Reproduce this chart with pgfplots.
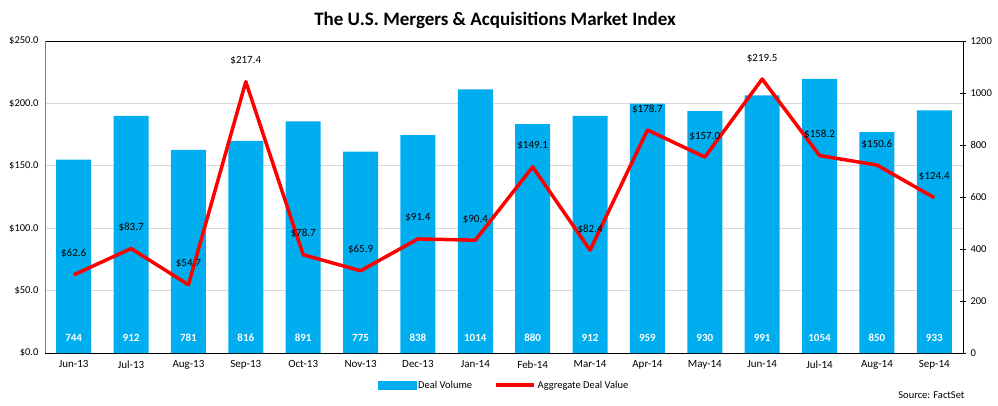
\documentclass[border=0pt]{standalone}
\usepackage{pgfplots}
\pgfplotsset{compat=1.18}
\usepackage{fontspec}
\setmainfont{Carlito}
\definecolor{barblue}{HTML}{00ADEF}
\definecolor{gridgray}{HTML}{D9D9D9}
\newcommand{\tickfont}{\fontsize{10.5}{12}\selectfont}
\newcommand{\labfont}{\fontsize{11}{13}\selectfont}
\begin{document}
\begin{tikzpicture}[x=1pt,y=1pt]
\path[use as bounding box] (-45,-52) rectangle (953,353);
\begin{axis}[
  at={(0,0)}, anchor=south west,
  width=918pt, height=312pt, scale only axis,
  xmin=-0.5, xmax=15.5, ymin=0, ymax=1200,
  axis y line*=right, axis x line*=bottom,
  axis line style={-, black, line width=0.8pt},
  xtick={0,...,15},
  xticklabels={Jun-13,Jul-13,Aug-13,Sep-13,Oct-13,Nov-13,Dec-13,Jan-14,Feb-14,Mar-14,Apr-14,May-14,Jun-14,Jul-14,Aug-14,Sep-14},
  xtick style={draw=none},
  x tick label style={font=\fontsize{11}{13}\selectfont, yshift=-1pt},
  ytick={0,200,...,1200},
  y tick style={black, line width=0.8pt},
  tick align=center, major tick length=6pt,
  y tick label style={font=\tickfont, xshift=1pt},
  /pgf/number format/assume math mode=true,
  /pgf/number format/1000 sep={},
  extra y ticks={240,480,720,960},
  extra y tick labels={},
  extra y tick style={grid=major, major grid style={gridgray, line width=0.8pt}, major tick length=0pt},
]
\addplot[ybar, bar width=35pt, fill=barblue, draw=none] coordinates {
(0,744) (1,912) (2,781) (3,816) (4,891) (5,775) (6,838) (7,1014)
(8,880) (9,912) (10,959) (11,930) (12,991) (13,1054) (14,850) (15,933)};
\addplot[draw=none, mark=none, nodes near coords, point meta=explicit symbolic,
  every node near coord/.style={anchor=center, text=white, font=\labfont\bfseries}] coordinates {
(0,58) [744] (1,58) [912] (2,58) [781] (3,58) [816] (4,58) [891] (5,58) [775] (6,58) [838] (7,58) [1014]
(8,58) [880] (9,58) [912] (10,58) [959] (11,58) [930] (12,58) [991] (13,58) [1054] (14,58) [850] (15,58) [933]};
\end{axis}
\begin{axis}[
  at={(0,0)}, anchor=south west,
  width=918pt, height=312pt, scale only axis,
  xmin=-0.5, xmax=15.5, ymin=0, ymax=250,
  axis y line*=left, axis x line*=top,
  x axis line style={-, black, line width=0.8pt},
  y axis line style={-, gray, line width=0.8pt},
  xtick=\empty,
  ytick={0,50,...,250},
  major tick length=0pt,
  /pgf/number format/assume math mode=true,
  yticklabel={\$\pgfmathprintnumber[fixed,fixed zerofill,precision=1]{\tick}},
  y tick label style={font=\tickfont, xshift=-3pt},
  legend style={at={(0.5,-0.103)}, anchor=center, legend columns=2, draw=none, fill=none,
    font=\tickfont, /tikz/every even column/.append style={column sep=20pt}},
  legend cell align=left,
]
\addlegendimage{legend image code/.code={\fill[barblue] (0pt,-4pt) rectangle (38pt,4pt);}}
\addlegendentry{Deal Volume}
\addplot[red, line width=3.5pt, line join=round, mark=none,
  legend image code/.code={\draw[red,line width=3.5pt] (0pt,0pt) -- (38pt,0pt);},
  nodes near coords={\$\pgfmathprintnumber[fixed,fixed zerofill,precision=1]{\pgfplotspointmeta}},
  every node near coord/.style={anchor=center, yshift=21pt, text=black, font=\labfont}] coordinates {
(0,62.6) (1,83.7) (2,54.7) (3,217.4) (4,78.7) (5,65.9) (6,91.4) (7,90.4)
(8,149.1) (9,82.4) (10,178.7) (11,157.0) (12,219.5) (13,158.2) (14,150.6) (15,124.4)};
\addlegendentry{Aggregate Deal Value}
\end{axis}
\node[font=\bfseries\fontsize{19}{22}\selectfont] at (450,333) {The U.S. Mergers \& Acquisitions Market Index};
\node[anchor=east, font=\tickfont] at (923,-42) {Source: FactSet};
\end{tikzpicture}
\end{document}
